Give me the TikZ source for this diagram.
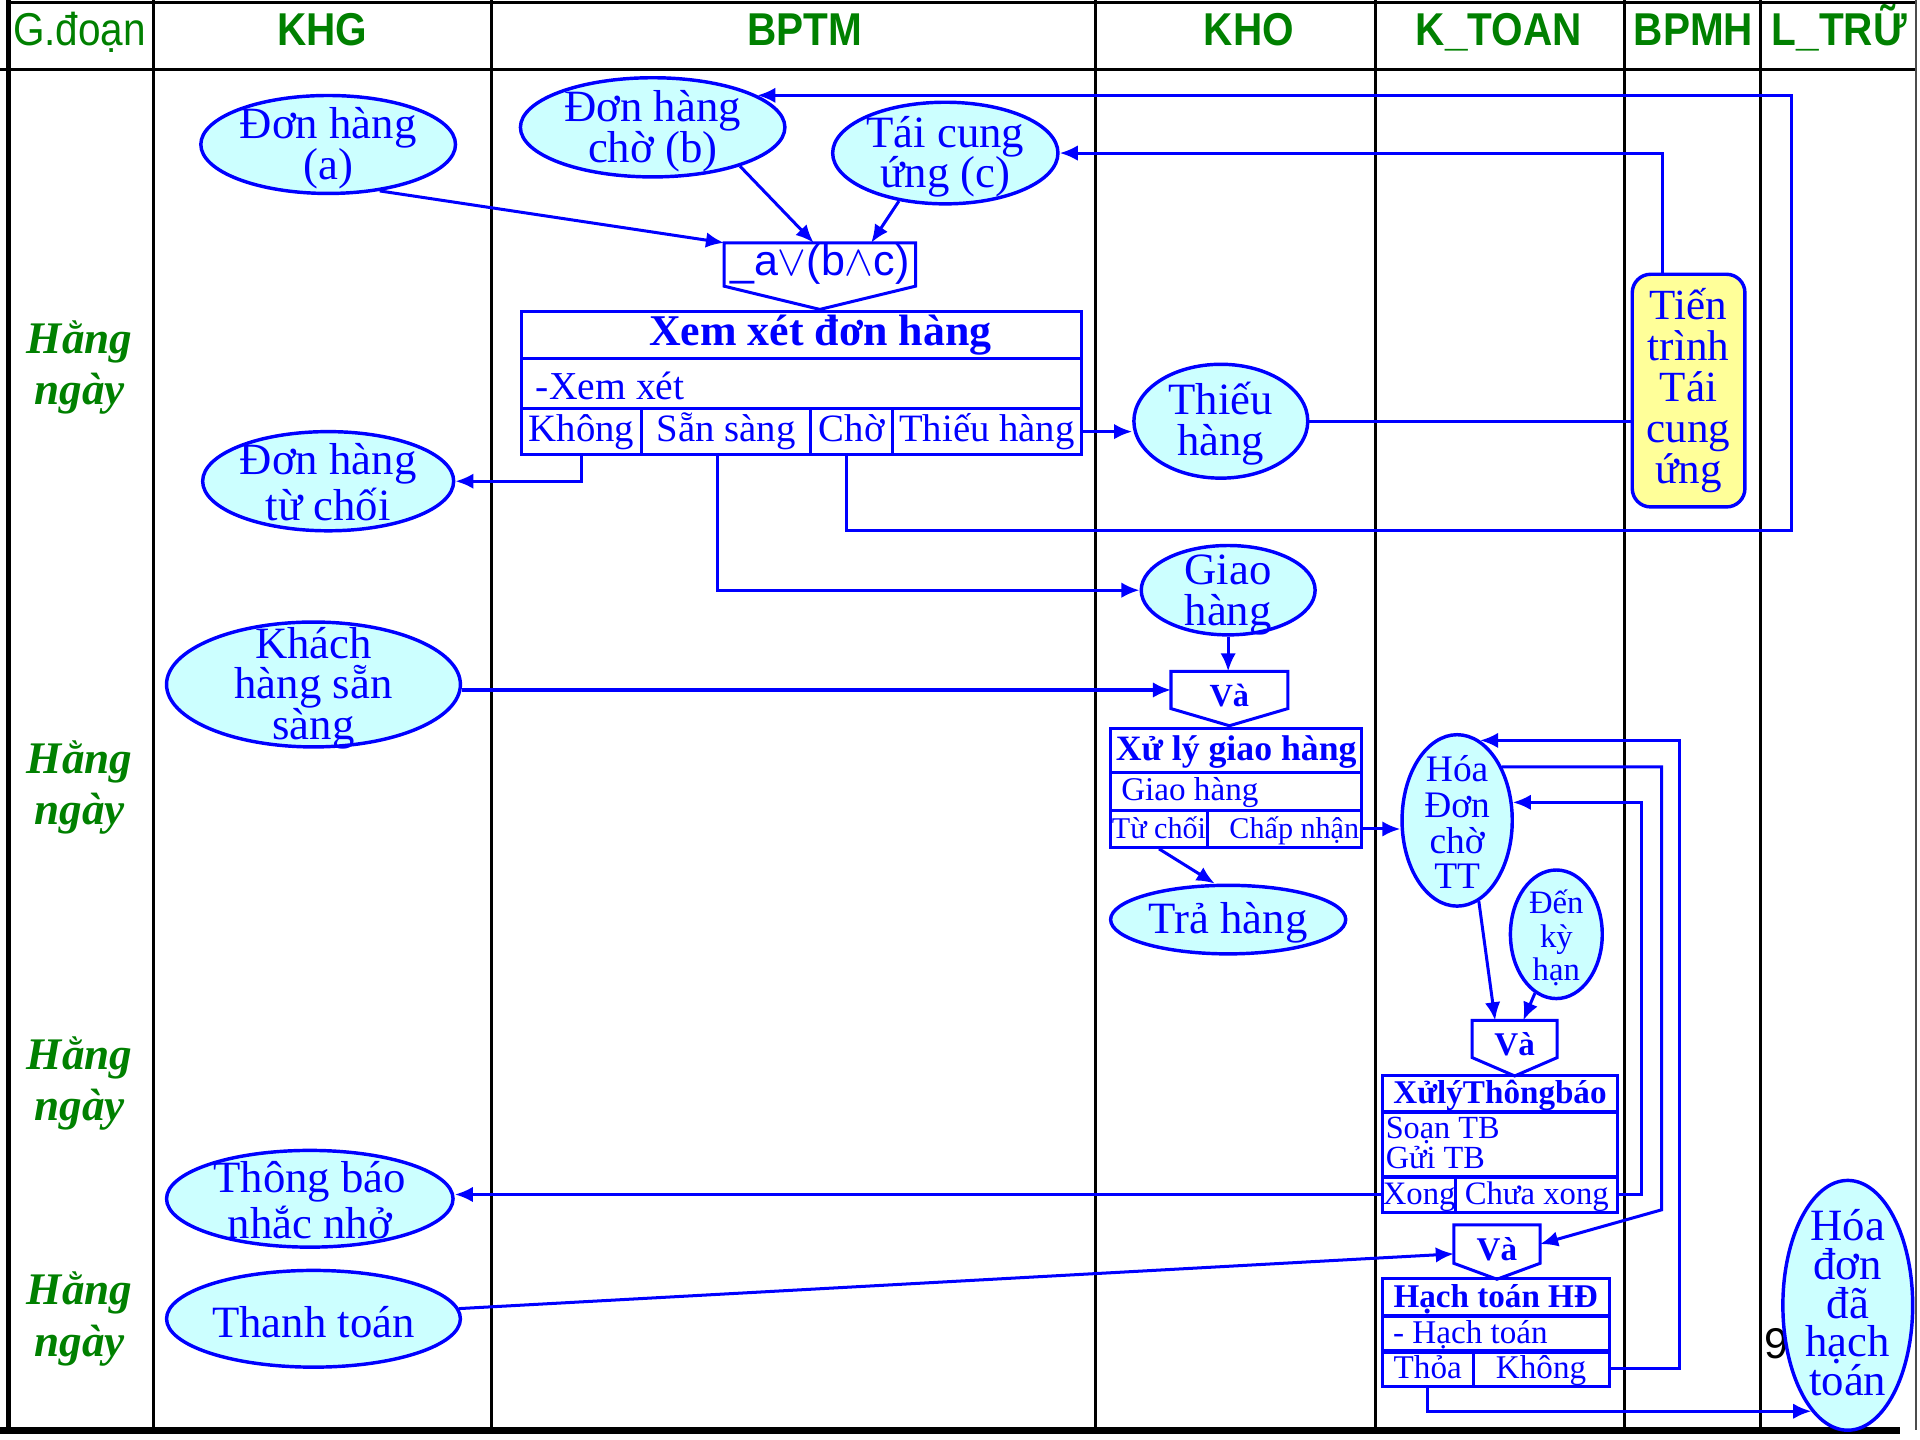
\documentclass[tikz,border=0pt]{standalone}
\usepackage{fontspec}
\setmainfont{Liberation Serif}
\newfontfamily\arialf{Liberation Sans}
\usetikzlibrary{shapes.geometric,arrows.meta}

\definecolor{ovalfill}{RGB}{204,255,255}
\definecolor{notefill}{RGB}{255,255,153}
\definecolor{lanegreen}{RGB}{0,128,0}

\newcommand{\lanetxt}[1]{\scalebox{0.88}[1]{#1}}
\newcommand{\fsz}[2]{\fontsize{#1}{#2}\selectfont}

\tikzset{
  grid/.style={line width=0.7pt},
  lane/.style={anchor=base, text=lanegreen, font=\arialf\bfseries\fsz{10.7}{12}},
  period/.style={text=lanegreen, align=center, font=\bfseries\itshape\fsz{10.5}{12}},
  oval/.style={ellipse, draw=blue, fill=ovalfill, line width=0.8pt, inner sep=0pt},
  otxt/.style={text=blue, align=center, yshift=-0.03cm, font=\fsz{10.4}{9.5}},
  cell/.style={rectangle, draw=blue, line width=0.7pt, inner sep=0pt, text=blue, text height=6.5pt, text depth=2pt},
  ctxt/.style={text=blue, inner sep=0pt, align=left},
  joinbox/.style={inner sep=0pt, text=blue, text height=7.6pt, text depth=0pt, font=\bfseries\fsz{7.5}{8}},
  link/.style={blue, line width=0.7pt},
  arr/.style={link, -{Latex[length=4.2pt,width=3.6pt]}},
}

\begin{document}
\begin{tikzpicture}
  \useasboundingbox (0,0) rectangle (15.68,-11.76);

  % lanes
  \draw[grid] (0.07,-0.02) -- (15.65,-0.02);
  \draw[grid] (0,-0.57) -- (15.65,-0.57);
  \draw[line width=0.5pt, black!70] (15.65,0) -- (15.65,-11.68);
  \foreach \x in {1.25,4.01,8.95,11.23,13.27,14.38}
    \draw[grid] (\x,0) -- (\x,-11.68);
  \draw[line width=1.3pt] (0.07,0) -- (0.07,-11.68);
  \draw[line width=1.6pt] (0,-11.68) -- (15.52,-11.68);

  \node[lane] (hgd) at (0.65,-0.37) {\mdseries\lanetxt{G.đoạn}};
  \node[lane] (hkhg) at (2.63,-0.37) {\lanetxt{KHG}};
  \node[lane] (hbptm) at (6.57,-0.37) {\lanetxt{BPTM}};
  \node[lane] (hkho) at (10.20,-0.37) {\lanetxt{KHO}};
  \node[lane] (hktoan) at (12.24,-0.37) {\lanetxt{K\_TOAN}};
  \node[lane] (hbpmh) at (13.83,-0.37) {\lanetxt{BPMH}};
  \node[lane] (hltru) at (15.02,-0.37) {\lanetxt{L\_TRỮ}};

  \node[period] (p1) at (0.65,-3.00) {Hằng\\ngày};
  \node[period] (p2) at (0.65,-6.43) {Hằng\\ngày};
  \node[period] (p3) at (0.65,-8.85) {Hằng\\ngày};
  \node[period] (p4) at (0.65,-10.77) {Hằng\\ngày};

  % orders
  \node[oval, minimum width=2.08cm, minimum height=0.80cm, label={[otxt]center:Đơn hàng\\(a)}] (dha) at (2.68,-1.18) {};
  \node[oval, minimum width=2.16cm, minimum height=0.81cm, label={[otxt]center:Đơn hàng\\chờ (b)}] (dhb) at (5.33,-1.04) {};
  \node[oval, minimum width=1.84cm, minimum height=0.83cm, label={[otxt]center:Tái cung\\ứng (c)}] (tcu) at (7.72,-1.25) {};
  \node[oval, minimum width=2.05cm, minimum height=0.81cm, label={[otxt, yshift=0.02cm]center:Đơn hàng\\từ chối}] (dhtc) at (2.68,-3.93) {};
  \node[oval, minimum width=1.42cm, minimum height=0.93cm, label={[otxt, yshift=0.01cm]center:Thiếu\\hàng}] (thieu) at (9.97,-3.44) {};
  \node[oval, minimum width=1.42cm, minimum height=0.73cm, label={[otxt, yshift=-0.01cm]center:Giao\\hàng}] (giao) at (10.03,-4.82) {};
  \node[oval, minimum width=2.40cm, minimum height=1.02cm, label={[otxt]center:Khách\\hàng sẵn\\sàng}] (khach) at (2.56,-5.59) {};
  \node[oval, minimum width=1.92cm, minimum height=0.56cm, label={[otxt]center:Trả hàng}] (trahang) at (10.03,-7.51) {};
  \node[oval, minimum width=0.90cm, minimum height=1.40cm, label={[otxt, yshift=0.015cm, font=\fsz{8.7}{8.3}]center:Hóa\\Đơn\\chờ\\TT}] (hdcho) at (11.90,-6.70) {};
  \node[oval, minimum width=0.75cm, minimum height=1.05cm, label={[otxt, font=\fsz{7.6}{7.8}]center:Đến\\kỳ\\hạn}] (denky) at (12.71,-7.63) {};
  \node[oval, minimum width=2.34cm, minimum height=0.79cm, label={[otxt, yshift=0.02cm]center:Thông báo\\nhắc nhở}] (tbnn) at (2.53,-9.79) {};
  \node[oval, minimum width=2.40cm, minimum height=0.79cm, label={[otxt]center:Thanh toán}] (thanh) at (2.56,-10.77) {};
  \node[anchor=west, inner sep=0pt, font=\arialf\fsz{10}{12}] (pg) at (14.40,-10.97) {9};
  \node[oval, minimum width=1.06cm, minimum height=2.04cm, label={[otxt, yshift=0.05cm, font=\fsz{10.4}{9}]center:Hóa\\đơn\\đã\\hạch\\toán}] (hdht) at (15.09,-10.66) {};

  \node[draw=blue, fill=notefill, line width=0.8pt, rounded corners=0.15cm, minimum width=0.92cm, minimum height=1.90cm,
        inner sep=0pt, text=blue, align=center, font=\fsz{10}{9.5}] (tctc) at (13.79,-3.19) {Tiến\\trình\\Tái\\cung\\ứng};

  % xem xet don hang
  \node[inner sep=0pt, text=blue, font=\arialf\fsz{10}{10}, minimum width=1.55cm, minimum height=0.34cm] (join0) at (6.695,-2.16) {\_a$\vee$(b$\wedge$c)};
  \draw[link] (join0.south west) |- (join0.north east) -- (join0.south east) -- ([yshift=-0.19cm]join0.south) -- cycle;

  \node[cell, minimum width=4.57cm, minimum height=0.39cm, text height=7pt, font=\bfseries\fsz{10.2}{11}] (xxt) at (6.545,-2.735) {\hspace*{0.31cm}Xem xét đơn hàng};
  \node[cell, minimum width=4.57cm, minimum height=0.41cm] (xxr) at (6.545,-3.135) {};
  \node[ctxt, anchor=west, font=\fsz{9.2}{10}] (xxrt) at (4.37,-3.15) {-Xem xét};
  \node[cell, minimum width=0.98cm, minimum height=0.37cm, font=\fsz{9}{10}] (khong) at (4.75,-3.525) {Không};
  \node[cell, minimum width=1.38cm, minimum height=0.37cm, font=\fsz{9}{10}] (ssang) at (5.93,-3.525) {Sẵn sàng};
  \node[cell, minimum width=0.67cm, minimum height=0.37cm, font=\fsz{9}{10}] (cho) at (6.955,-3.525) {Chờ};
  \node[cell, minimum width=1.54cm, minimum height=0.37cm, font=\fsz{9}{10}] (thieuh) at (8.06,-3.525) {Thiếu hàng};

  % xu ly giao hang
  \node[joinbox, minimum width=0.94cm, minimum height=0.29cm] (va1) at (10.04,-5.635) {Và};
  \draw[link] (va1.south west) |- (va1.north east) -- (va1.south east) -- ([yshift=-0.14cm]va1.south) -- cycle;

  \node[cell, minimum width=2.05cm, minimum height=0.36cm, font=\bfseries\fsz{8.3}{9}] (xlt) at (10.095,-6.13) {Xử lý giao hàng};
  \node[cell, minimum width=2.05cm, minimum height=0.31cm] (xlr) at (10.095,-6.465) {};
  \node[ctxt, anchor=west, font=\fsz{7.7}{8}] (xlrt) at (9.15,-6.47) {Giao hàng};
  \node[cell, minimum width=0.79cm, minimum height=0.30cm, font=\fsz{7}{8}] (tuchoi) at (9.465,-6.77) {Từ chối};
  \node[cell, minimum width=1.26cm, minimum height=0.30cm, font=\fsz{7}{8}] (chapnhan) at (10.49,-6.77) {\hspace*{0.16cm}Chấp nhận};

  % xu ly thong bao
  \node[joinbox, minimum width=0.68cm, minimum height=0.29cm, font=\bfseries\fsz{7.7}{8}] (va2) at (12.37,-8.485) {Và};
  \draw[link] (va2.south west) |- (va2.north east) -- (va2.south east) -- ([yshift=-0.15cm]va2.south) -- cycle;

  \node[cell, minimum width=1.92cm, minimum height=0.29cm, font=\bfseries\fsz{7.7}{8}] (tbt) at (12.25,-8.935) {XửlýThôngbáo};
  \node[cell, minimum width=1.92cm, minimum height=0.54cm] (tbr) at (12.25,-9.35) {};
  \node[ctxt, anchor=west, font=\fsz{7.5}{7.1}] (tbrt) at (11.31,-9.335) {Soạn TB\\Gửi TB};
  \node[cell, minimum width=0.60cm, minimum height=0.27cm, font=\fsz{7.6}{8}] (xong) at (11.59,-9.755) {Xong};
  \node[cell, minimum width=1.32cm, minimum height=0.27cm, font=\fsz{7.6}{8}] (chuaxong) at (12.55,-9.755) {Chưa xong};

  % hach toan
  \node[joinbox, minimum width=0.69cm, minimum height=0.30cm, font=\bfseries\fsz{7.7}{8}] (va3) at (12.225,-10.16) {Và};
  \draw[link] (va3.south west) |- (va3.north east) -- (va3.south east) -- ([yshift=-0.13cm]va3.south) -- cycle;

  \node[cell, minimum width=1.85cm, minimum height=0.31cm, font=\bfseries\fsz{7.7}{8}] (htt) at (12.215,-10.595) {Hạch toán HĐ};
  \node[cell, minimum width=1.85cm, minimum height=0.29cm] (htr) at (12.215,-10.895) {};
  \node[ctxt, anchor=west, font=\fsz{7.7}{8}] (htrt) at (11.37,-10.90) {- Hạch toán};
  \node[cell, minimum width=0.74cm, minimum height=0.27cm, font=\fsz{7.7}{8}] (thoa) at (11.66,-11.175) {Thỏa};
  \node[cell, minimum width=1.11cm, minimum height=0.27cm, font=\fsz{7.7}{8}] (khong2) at (12.585,-11.175) {Không};

  % flows
  \draw[arr] (dha.-42) -- (join0.north west);
  \draw[arr] (dhb.-24) -- ([xshift=-0.05cm]join0.north);
  \draw[arr] (tcu.-134) -- ([xshift=0.42cm]join0.north);
  \draw[arr] ([xshift=-0.04cm]cho.south) |- (14.63,-4.33) |- (dhb.17);
  \draw[arr] ([xshift=-0.21cm]tctc.north) |- (tcu.east);
  \draw[arr] (thieuh.east) -- (thieuh.east -| thieu.west);
  \draw[link] (thieu.east) -- (thieu.east -| tctc.west);
  \draw[arr] (khong.south) |- (dhtc.east);
  \draw[arr] ([xshift=-0.07cm]ssang.south) |- (giao.west);
  \draw[arr] (giao.south) -- (giao.south |- va1.north);
  \draw[arr] (khach.east |- va1.west) -- (va1.west);
  \draw[arr] (chapnhan.east) -- (chapnhan.east -| hdcho.west);
  \draw[arr] (tuchoi.south) -- ([xshift=-0.11cm]trahang.north);
  \draw[arr] (hdcho.-75) -- ([xshift=-0.16cm]va2.north);
  \draw[arr] (denky.-110) -- ([xshift=0.07cm]va2.north);
  \draw[arr] (xong.west) -- (xong.west -| tbnn.east);
  \draw[arr] (chuaxong.east) -- ++(0.18,0) |- (hdcho.18);
  \draw[arr] (hdcho.50) -| (13.57,-9.88) -- (va3.east);
  \draw[arr] (khong2.east) -- ++(0.56,0) |- (hdcho.74);
  \draw[arr] (thanh.4) -- ([yshift=-0.08cm]va3.west);
  \draw[arr] (thoa.south) |- (hdht.251);
\end{tikzpicture}
\end{document}
